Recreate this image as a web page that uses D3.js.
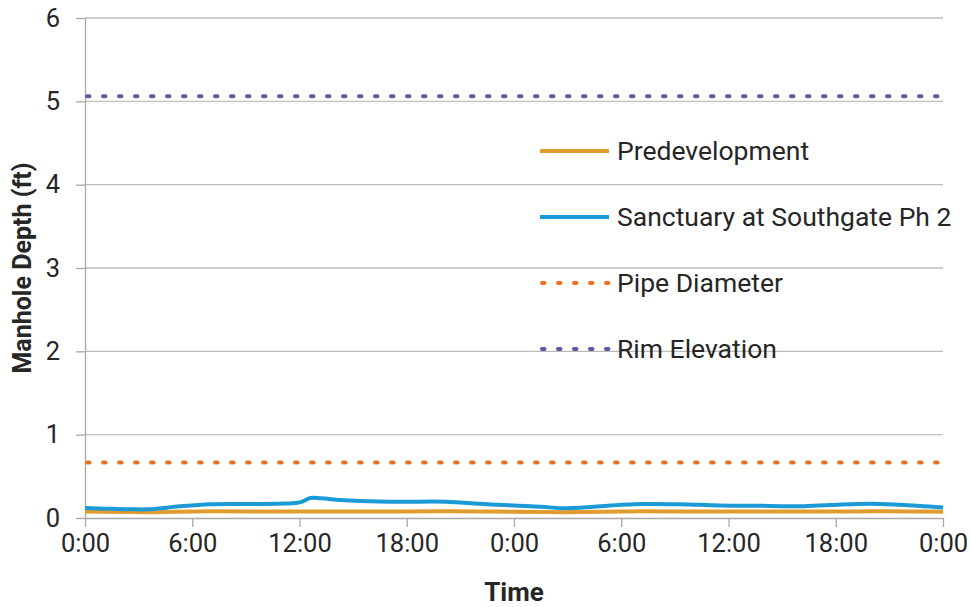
<!DOCTYPE html>
<html>
<head>
<meta charset="utf-8">
<script src="https://cdn.jsdelivr.net/npm/d3@7"></script>
<style>
  html, body { margin: 0; padding: 0; background: #fff; }
  svg { display: block; font-family: Roboto, "Noto Sans", sans-serif; }
</style>
</head>
<body>
<svg id="chart" width="971" height="607"></svg>
<script>
// Time axis: hours since the start of the two-day simulation
const tickHours = [0, 6, 12, 18, 24, 30, 36, 42, 48];
const tickLabels = ["0:00", "6:00", "12:00", "18:00", "0:00", "6:00", "12:00", "18:00", "0:00"];
const depthTicks = [0, 1, 2, 3, 4, 5, 6];

// Predevelopment depth (ft)
const predevHours = [0, 2, 3.6, 5, 7, 9, 12, 15, 18, 19.5, 20.5, 22, 24, 25.5, 26.6, 28, 30, 31, 33, 36, 40, 43, 44.5, 46, 48];
const predevDepth = [0.077, 0.073, 0.070, 0.074, 0.080, 0.079, 0.078, 0.077, 0.078, 0.081, 0.081, 0.078, 0.076, 0.073, 0.070, 0.073, 0.078, 0.080, 0.079, 0.078, 0.078, 0.079, 0.082, 0.079, 0.076];

// Sanctuary at Southgate Ph 2 depth (ft)
const sanctuaryHours = [0, 1.2, 2.5, 3.6, 5.3, 7, 9.2, 11.2, 11.8, 12.2, 12.6, 13.2, 14.3, 15.4, 17.6, 20.2, 22.1, 24, 25.5, 26.6, 27.7, 29.4, 31.1, 33.3, 35.5, 38.3, 40, 41.7, 43.9, 45.6, 48];
const sanctuaryDepth = [0.120, 0.112, 0.105, 0.105, 0.140, 0.165, 0.168, 0.174, 0.180, 0.200, 0.240, 0.236, 0.216, 0.205, 0.195, 0.195, 0.170, 0.150, 0.136, 0.118, 0.122, 0.150, 0.168, 0.165, 0.150, 0.145, 0.140, 0.155, 0.172, 0.158, 0.125];

// Reference levels (ft)
const pipeDiameter = 0.667;
const rimElevation = 5.06;

const seriesNames = ["Predevelopment", "Sanctuary at Southgate Ph 2", "Pipe Diameter", "Rim Elevation"];
const seriesColors = ["#E09C2F", "#1C9AD6", "#F07124", "#5E5AA3"];

const svg = d3.select("#chart");
const plot = { left: 85, right: 943, top: 18, bottom: 518 };

const x = d3.scaleLinear().domain([0, 48]).range([plot.left, plot.right]);
const y = d3.scaleLinear().domain([0, 6]).range([plot.bottom, plot.top]);

const textColor = "#262626";
const gridColor = "#BDBDBD";
const axisColor = "#A9A9A9";

// Horizontal gridlines
svg.append("g")
  .selectAll("line")
  .data(depthTicks.filter(d => d > 0))
  .join("line")
  .attr("x1", plot.left).attr("x2", plot.right)
  .attr("y1", d => y(d)).attr("y2", d => y(d))
  .attr("stroke", gridColor).attr("stroke-width", 1.3);

// Y axis
const yAxis = svg.append("g")
  .attr("transform", `translate(${plot.left},0)`)
  .call(d3.axisLeft(y).tickValues(depthTicks).tickFormat(d3.format("d")).tickSize(9).tickSizeOuter(0).tickPadding(16));
yAxis.select(".domain").attr("stroke", axisColor).attr("stroke-width", 1.3);
yAxis.selectAll(".tick line").attr("stroke", axisColor).attr("stroke-width", 1.3);
yAxis.selectAll(".tick text")
  .attr("fill", textColor).attr("font-size", 25.5).attr("font-family", "Roboto, sans-serif");

// X axis
const xAxis = svg.append("g")
  .attr("transform", `translate(0,${plot.bottom})`)
  .call(d3.axisBottom(x).tickValues(tickHours).tickFormat((d, i) => tickLabels[i]).tickSize(9).tickSizeOuter(0).tickPadding(7));
xAxis.select(".domain").attr("stroke", axisColor).attr("stroke-width", 1.3);
xAxis.selectAll(".tick line").attr("stroke", axisColor).attr("stroke-width", 1.3);
xAxis.selectAll(".tick text")
  .attr("fill", textColor).attr("font-size", 25.5).attr("font-family", "Roboto, sans-serif");

// Reference levels as dotted lines
[[pipeDiameter, seriesColors[2]], [rimElevation, seriesColors[3]]].forEach(([v, c]) => {
  svg.append("line")
    .attr("x1", x(0) + 2).attr("x2", x(48) - 2)
    .attr("y1", y(v)).attr("y2", y(v))
    .attr("stroke", c)
    .attr("stroke-width", 4)
    .attr("stroke-dasharray", "2.5 13.5")
    .attr("stroke-linecap", "round");
});

// Depth series
const line = d3.line().x(d => x(d[0])).y(d => y(d[1])).curve(d3.curveCatmullRom.alpha(0.5));
const predev = predevHours.map((h, i) => [h, predevDepth[i]]);
const sanctuary = sanctuaryHours.map((h, i) => [h, sanctuaryDepth[i]]);

svg.append("path").datum(predev)
  .attr("d", line).attr("fill", "none")
  .attr("stroke", seriesColors[0]).attr("stroke-width", 4).attr("stroke-linejoin", "round");
svg.append("path").datum(sanctuary)
  .attr("d", line).attr("fill", "none")
  .attr("stroke", seriesColors[1]).attr("stroke-width", 4).attr("stroke-linejoin", "round");

// Legend
const legend = svg.append("g").attr("transform", "translate(540,151)");
seriesNames.forEach((name, i) => {
  const row = legend.append("g").attr("transform", `translate(0,${i * 66})`);
  const sw = row.append("line")
    .attr("x1", i < 2 ? 0 : 2).attr("x2", i < 2 ? 69 : 69)
    .attr("y1", 0).attr("y2", 0)
    .attr("stroke", seriesColors[i]).attr("stroke-width", 4);
  if (i >= 2) {
    sw.attr("stroke-dasharray", "2.5 13.5").attr("stroke-linecap", "round");
  }
  row.append("text")
    .attr("x", 77).attr("y", 0).attr("dy", "0.35em")
    .attr("fill", textColor).attr("font-size", 26.5)
    .text(name);
});

// Axis titles
svg.append("text")
  .attr("x", (plot.left + plot.right) / 2).attr("y", 601)
  .attr("text-anchor", "middle").attr("font-weight", "bold")
  .attr("font-size", 26).attr("fill", textColor)
  .text("Time");

svg.append("text")
  .attr("transform", `translate(31,268) rotate(-90)`)
  .attr("text-anchor", "middle").attr("font-weight", "bold")
  .attr("font-size", 25).attr("fill", textColor)
  .text("Manhole Depth (ft)");
</script>
</body>
</html>
